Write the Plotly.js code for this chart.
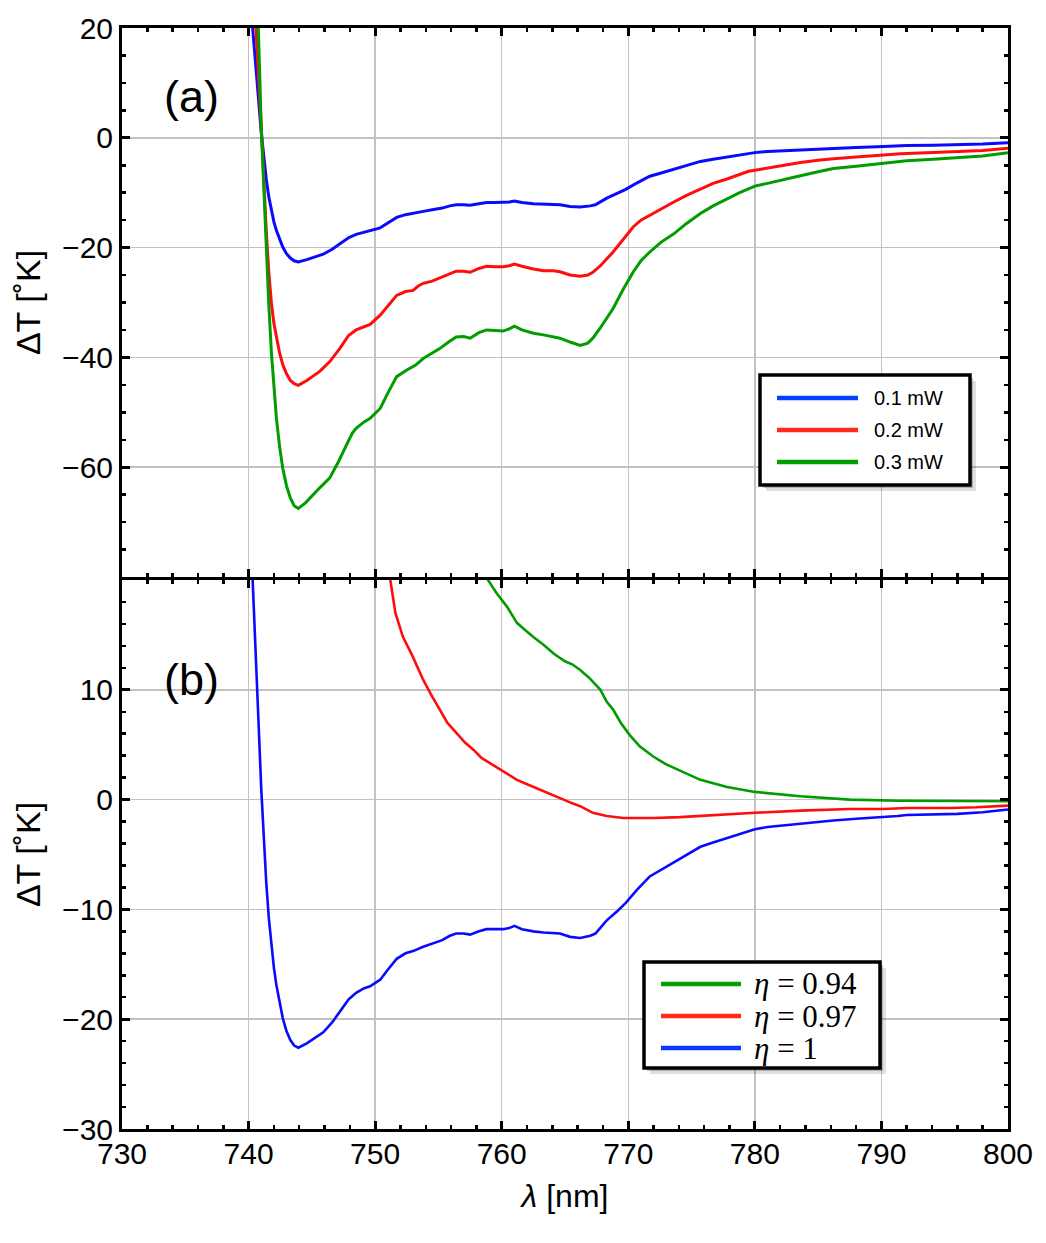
<!DOCTYPE html>
<html>
<head>
<meta charset="utf-8">
<script src="https://cdn.plot.ly/plotly-3.0.1.min.js"></script>
<style>
  html, body { margin: 0; padding: 0; background: #ffffff; }
  #chart { width: 1046px; height: 1243px; }
</style>
</head>
<body>
<div id="chart"></div>
<script>
// ---- measured temperature change vs. wavelength ----

// (a) pump power series
const powerLabels = ['0.1 mW', '0.2 mW', '0.3 mW'];

const lamP1 = [740.0, 740.3, 740.55, 740.77, 741.0, 741.2, 741.4, 741.6, 741.8, 742.0, 742.2, 742.45, 742.7, 743.0, 743.3, 743.6, 743.93, 744.6, 745.3, 745.9, 746.6, 747.2, 747.9, 748.5, 749.1, 749.6, 750.4, 751.0, 751.7, 752.4, 753.0, 753.8, 754.5, 755.3, 755.9, 756.4, 757.0, 757.5, 758.2, 758.8, 759.5, 760.1, 760.6, 761.0, 761.6, 762.5, 763.3, 764.1, 764.6, 765.4, 766.2, 767.0, 767.4, 768.3, 769.1, 769.8, 770.7, 771.7, 772.6, 773.6, 774.6, 775.7, 776.7, 777.8, 778.8, 779.5, 780.0, 781.0, 782.2, 783.6, 785.0, 786.2, 788.0, 790.2, 791.3, 792.0, 794.1, 796.0, 798.0, 800.0];
const dtP1 = [29, 20, 13.5, 7.5, 1.0, -3.8, -7.6, -10.8, -13.3, -15.3, -16.9, -18.6, -19.9, -21.1, -21.9, -22.4, -22.6, -22.2, -21.7, -21.2, -20.3, -19.3, -18.2, -17.6, -17.2, -17.0, -16.4, -15.5, -14.5, -14.0, -13.8, -13.4, -13.1, -12.8, -12.4, -12.2, -12.2, -12.3, -12.0, -11.8, -11.8, -11.8, -11.7, -11.5, -11.8, -12.0, -12.1, -12.2, -12.2, -12.5, -12.6, -12.4, -12.2, -11.0, -10.2, -9.4, -8.2, -7.0, -6.4, -5.7, -5.0, -4.3, -3.9, -3.5, -3.2, -2.9, -2.7, -2.5, -2.35, -2.2, -2.0, -1.9, -1.75, -1.6, -1.5, -1.4, -1.35, -1.3, -1.15, -0.9];

const lamP2 = [740.35, 740.58, 741.0, 741.2, 741.4, 741.6, 741.8, 742.0, 742.2, 742.45, 742.7, 743.0, 743.3, 743.6, 743.93, 744.6, 745.6, 746.4, 747.2, 747.9, 748.5, 749.1, 749.6, 750.4, 751.0, 751.7, 752.4, 753.0, 753.4, 753.8, 754.5, 755.1, 755.8, 756.4, 757.0, 757.5, 758.2, 758.8, 759.5, 760.1, 760.6, 761.0, 761.6, 762.5, 763.3, 764.1, 764.6, 765.4, 766.2, 766.8, 767.2, 767.8, 768.8, 769.6, 770.4, 771.0, 771.7, 772.6, 773.6, 774.6, 775.7, 776.7, 777.8, 778.8, 779.5, 780.0, 781.0, 782.2, 783.6, 785.0, 786.2, 788.0, 790.2, 791.5, 794.1, 796.0, 798.0, 800.0];
const dtP2 = [28, 20, 2, -8, -17, -24.5, -30.0, -33.8, -36.5, -39.2, -41.3, -43.0, -44.2, -44.8, -45.1, -44.2, -42.6, -40.8, -38.4, -36.0, -35.0, -34.4, -34.0, -32.3, -30.6, -28.7, -28.0, -27.8, -27.0, -26.5, -26.1, -25.5, -24.9, -24.3, -24.3, -24.5, -23.8, -23.4, -23.5, -23.5, -23.3, -23.0, -23.4, -23.9, -24.2, -24.2, -24.4, -25.0, -25.2, -25.0, -24.5, -23.3, -20.8, -18.6, -16.2, -15.0, -14.1, -12.9, -11.7, -10.5, -9.3, -8.3, -7.5, -6.7, -6.1, -5.9, -5.5, -5.0, -4.5, -4.1, -3.8, -3.5, -3.2, -2.9, -2.7, -2.5, -2.3, -1.9];

const lamP3 = [740.55, 740.77, 741.0, 741.2, 741.4, 741.6, 741.8, 742.0, 742.2, 742.45, 742.7, 743.0, 743.3, 743.6, 743.93, 744.5, 745.1, 745.6, 746.4, 747.1, 747.75, 748.2, 748.5, 749.1, 749.6, 750.4, 751.0, 751.7, 752.5, 753.2, 753.8, 754.5, 755.1, 755.8, 756.4, 757.0, 757.5, 758.2, 758.8, 759.5, 760.1, 760.6, 761.0, 761.6, 762.5, 763.3, 764.1, 764.6, 765.4, 766.2, 766.8, 767.2, 767.8, 768.8, 769.6, 770.4, 771.0, 771.7, 772.6, 773.6, 774.6, 775.7, 776.7, 777.8, 778.8, 779.5, 780.0, 781.0, 782.2, 783.6, 785.0, 786.2, 788.0, 790.2, 791.0, 792.0, 794.1, 796.0, 798.0, 800.0];
const dtP3 = [28, 20, 2, -9.5, -20.8, -30.5, -39.0, -45.8, -51.1, -56.2, -60.2, -63.4, -65.6, -67.0, -67.5, -66.5, -65.0, -63.8, -62.0, -59.0, -55.9, -53.8, -52.9, -51.8, -51.1, -49.3, -46.5, -43.5, -42.3, -41.4, -40.2, -39.3, -38.4, -37.2, -36.3, -36.2, -36.5, -35.5, -35.0, -35.1, -35.2, -34.8, -34.3, -35.0, -35.6, -35.9, -36.2, -36.5, -37.2, -37.8, -37.4, -36.5, -34.6, -31.1, -27.6, -24.4, -22.4, -20.8, -19.0, -17.5, -15.6, -13.8, -12.4, -11.1, -10.0, -9.3, -8.8, -8.3, -7.6, -6.9, -6.2, -5.6, -5.2, -4.7, -4.5, -4.2, -3.9, -3.6, -3.3, -2.7];

// (b) efficiency series (eta = 1 is the 0.1 mW curve)
const etaLabels = ['<i>η</i> = 0.94', '<i>η</i> = 0.97', '<i>η</i> = 1'];

const lamE094 = [757.5, 758.9, 759.6, 760.4, 760.8, 761.2, 761.8, 762.5, 763.3, 764.1, 764.6, 765.0, 765.6, 766.2, 766.9, 767.5, 767.8, 768.3, 768.8, 769.4, 770.1, 770.9, 772.0, 773.0, 774.3, 775.7, 777.8, 780.0, 783.6, 787.5, 791.5, 795.4, 800.0];
const dtE094 = [22.5, 20, 18.8, 17.6, 16.9, 16.1, 15.5, 14.8, 14.1, 13.3, 12.9, 12.6, 12.3, 11.8, 11.1, 10.3, 10.0, 8.9, 8.2, 7.0, 5.9, 4.85, 3.9, 3.2, 2.5, 1.8, 1.15, 0.7, 0.3, 0.0, -0.1, -0.15, -0.15];

const lamE097 = [750.5, 751.2, 751.6, 752.2, 752.9, 753.8, 754.4, 755.1, 755.7, 756.4, 757.1, 757.8, 758.4, 759.1, 760.1, 761.2, 762.1, 763.0, 763.8, 764.6, 765.4, 766.2, 767.2, 768.3, 769.6, 770.8, 772.0, 774.1, 775.5, 777.0, 780.0, 783.6, 787.5, 790.2, 792.0, 795.4, 797.5, 800.0];
const dtE097 = [26.5, 20, 17.0, 14.8, 13.2, 10.9, 9.6, 8.2, 7.0, 6.1, 5.2, 4.5, 3.8, 3.3, 2.6, 1.8, 1.35, 0.9, 0.5, 0.15, -0.25, -0.6, -1.2, -1.5, -1.67, -1.67, -1.67, -1.6, -1.5, -1.4, -1.2, -1.0, -0.85, -0.85, -0.76, -0.76, -0.7, -0.55];

// axis ticks
const topTicks = [-60, -40, -20, 0, 20];
const bottomTicks = [-30, -20, -10, 0, 10];

// ---- styling ----
const BLUE = '#0a0aff', RED = '#ff0d0d', GREEN = '#009c00';
const W = 1046, H = 1243;
const M = { l: 122, r: 38, t: 28, b: 114 };
const PW = W - M.l - M.r, PH = H - M.t - M.b;
const px = v => (v - M.l) / PW;          // page pixel -> paper x
const py = v => (H - M.b - v) / PH;      // page pixel -> paper y
const seam = 1.5 / PH;                    // lets the two frame lines at the seam overlap

const sans = 'Liberation Sans, Arial, Helvetica, sans-serif';
const serif = 'Liberation Serif, Times New Roman, serif';

const traces = [
  { x: lamP1, y: dtP1, xaxis: 'x2', yaxis: 'y2', mode: 'lines', line: { color: BLUE, width: 3 }, name: powerLabels[0] },
  { x: lamP2, y: dtP2, xaxis: 'x2', yaxis: 'y2', mode: 'lines', line: { color: RED, width: 3 }, name: powerLabels[1] },
  { x: lamP3, y: dtP3, xaxis: 'x2', yaxis: 'y2', mode: 'lines', line: { color: GREEN, width: 3 }, name: powerLabels[2] },
  { x: lamE094, y: dtE094, xaxis: 'x', yaxis: 'y', mode: 'lines', line: { color: GREEN, width: 2.6 }, name: etaLabels[0] },
  { x: lamE097, y: dtE097, xaxis: 'x', yaxis: 'y', mode: 'lines', line: { color: RED, width: 2.6 }, name: etaLabels[1] },
  { x: lamP1, y: dtP1, xaxis: 'x', yaxis: 'y', mode: 'lines', line: { color: BLUE, width: 2.6 }, name: etaLabels[2] }
];

const frame = {
  showline: true, linecolor: '#000', linewidth: 3, mirror: 'ticks',
  ticks: 'inside', ticklen: 8, tickwidth: 3, tickcolor: '#000',
  showgrid: true, gridcolor: '#c2c2c2', gridwidth: 1.5, zeroline: false
};

const xCommon = Object.assign({}, frame, {
  range: [730, 800], tickmode: 'linear', tick0: 730, dtick: 10,
  minor: { ticks: 'inside', tickmode: 'linear', tick0: 730, dtick: 2, ticklen: 4, tickwidth: 2.5, tickcolor: '#000', showgrid: false }
});

const layout = {
  width: W, height: H,
  margin: M,
  paper_bgcolor: '#fff', plot_bgcolor: '#fff',
  showlegend: false,
  font: { family: sans, color: '#000' },
  xaxis: Object.assign({}, xCommon, {
    anchor: 'y', domain: [0, 1],
    tickfont: { size: 30 }, ticklabelstandoff: -4,
    title: { text: '<i>λ</i> [nm]', font: { size: 32 }, standoff: 16 }
  }),
  xaxis2: Object.assign({}, xCommon, {
    anchor: 'y2', matches: 'x', showticklabels: false
  }),
  yaxis: Object.assign({}, frame, {
    anchor: 'x', domain: [0, 0.5 - seam], range: [-30, 20],
    tickmode: 'array', tickvals: bottomTicks,
    minor: { ticks: 'inside', tickmode: 'linear', tick0: 0, dtick: 2, ticklen: 4, tickwidth: 2.5, tickcolor: '#000', showgrid: false },
    tickfont: { size: 30 },
    title: { text: 'ΔT [˚K]', font: { size: 34 }, standoff: 12 }
  }),
  yaxis2: Object.assign({}, frame, {
    anchor: 'x2', domain: [0.5 + seam, 1], range: [-80, 20],
    tickmode: 'array', tickvals: topTicks,
    minor: { ticks: 'inside', tickmode: 'linear', tick0: 0, dtick: 5, ticklen: 4, tickwidth: 2.5, tickcolor: '#000', showgrid: false },
    tickfont: { size: 30 },
    title: { text: 'ΔT [˚K]', font: { size: 34 }, standoff: 12 }
  }),
  shapes: [],
  annotations: [
    { text: '(a)', x: px(191), y: py(96), xref: 'paper', yref: 'paper', xanchor: 'center', yanchor: 'middle', showarrow: false, font: { size: 45 } },
    { text: '(b)', x: px(191), y: py(679), xref: 'paper', yref: 'paper', xanchor: 'center', yanchor: 'middle', showarrow: false, font: { size: 45 } }
  ]
};

// legend boxes: framed panel with a soft drop shadow, line samples and labels
function legendBox(box, rows, colors, labels, font, lineX, textX) {
  const s = layout.shapes, a = layout.annotations;
  s.push({ type: 'rect', xref: 'paper', yref: 'paper', layer: 'above',
    x0: px(box[0] + 6), x1: px(box[1] + 6), y0: py(box[2] + 6), y1: py(box[3] + 6),
    fillcolor: 'rgba(0,0,0,0.12)', line: { width: 0 } });
  s.push({ type: 'rect', xref: 'paper', yref: 'paper', layer: 'above',
    x0: px(box[0] + 3), x1: px(box[1] + 3), y0: py(box[2] + 3), y1: py(box[3] + 3),
    fillcolor: 'rgba(0,0,0,0.22)', line: { width: 0 } });
  s.push({ type: 'rect', xref: 'paper', yref: 'paper', layer: 'above',
    x0: px(box[0]), x1: px(box[1]), y0: py(box[2]), y1: py(box[3]),
    fillcolor: '#fff', line: { color: '#000', width: 3.5 } });
  rows.forEach((r, i) => {
    s.push({ type: 'line', xref: 'paper', yref: 'paper', layer: 'above',
      x0: px(lineX[0]), x1: px(lineX[1]), y0: py(r), y1: py(r),
      line: { color: colors[i], width: 4.5 } });
    a.push({ text: labels[i], x: px(textX), y: py(r), xref: 'paper', yref: 'paper',
      xanchor: 'left', yanchor: 'middle', showarrow: false, font: font });
  });
}

legendBox([760, 970, 375, 485], [398, 430, 462], ['#0040ff', '#ff2a1a', '#00a000'], powerLabels,
  { family: sans, size: 20 }, [777, 858], 872);
legendBox([644, 880, 962, 1068], [984, 1016, 1048], ['#00a000', '#ff2a1a', '#0a3aff'], etaLabels,
  { family: serif, size: 31 }, [661, 741], 752);

Plotly.newPlot('chart', traces, layout, { staticPlot: true, displayModeBar: false });
</script>
</body>
</html>
